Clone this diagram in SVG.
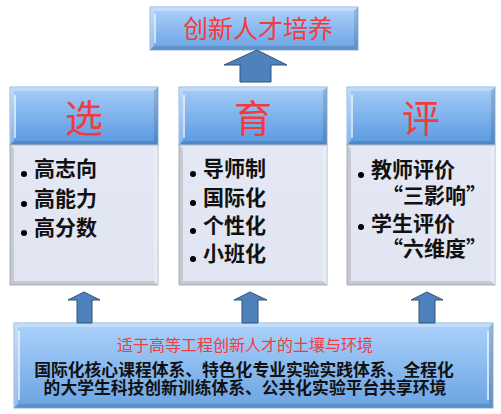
<svg xmlns="http://www.w3.org/2000/svg" width="501" height="414" viewBox="0 0 501 414">
<defs>
<linearGradient id="gBlue" x1="0" y1="0" x2="0" y2="1">
<stop offset="0" stop-color="#acd2fb"/>
<stop offset="1" stop-color="#6aa3e3"/>
</linearGradient>
<linearGradient id="gHead" x1="0" y1="0" x2="0" y2="1">
<stop offset="0" stop-color="#a6cdf8"/>
<stop offset="1" stop-color="#5898df"/>
</linearGradient>
<linearGradient id="gBody" x1="0" y1="0" x2="0" y2="1">
<stop offset="0" stop-color="#e4e8f4"/>
<stop offset="1" stop-color="#e1e5f1"/>
</linearGradient>
<style>
.blue{fill:url(#gBlue);stroke:#8fb4df;stroke-width:1}
.head{fill:url(#gHead);stroke:#8fb4df;stroke-width:1}
.body{fill:url(#gBody);stroke:#b4b8c2;stroke-width:1}
.hl{fill:#ffffff;fill-opacity:0.28}
.sh{fill:#000000;fill-opacity:0.12}
.spec{stroke:#ffffff;stroke-opacity:0.85;stroke-width:1.5;fill:none}
.arrow{fill:#4f81bd;stroke:#2f5277;stroke-width:1}
.red{font-family:"Noto Sans CJK SC","Noto Sans CJK JP",sans-serif;fill:#f23c3c;text-anchor:middle}
.item{font-family:"Noto Sans CJK SC","Noto Sans CJK JP",sans-serif;fill:#111111;font-size:21px;font-weight:600}
.env{font-family:"Noto Sans CJK SC","Noto Sans CJK JP",sans-serif;fill:#111111;font-size:16.8px;font-weight:600;text-anchor:middle}
.dot{fill:#000000}
</style>
</defs>

<g id="top-node">
<rect class="blue" x="150" y="7" width="208" height="43"/>
<polygon class="hl" points="150,7 358,7 354,11 154,11"/>
<polygon class="hl" points="150,7 154,11 154,46 150,50"/>
<polygon class="sh" points="358,7 358,50 354,46 354,11"/>
<polygon class="sh" points="150,50 358,50 354,46 154,46"/>
<line class="spec" x1="155" y1="14" x2="155" y2="43"/>
<text class="red" x="258" y="38" font-size="25">创新人才培养</text>
</g>

<g id="select-node">
<rect class="head" x="10" y="87" width="148" height="58"/>
<polygon class="hl" points="10,87 158,87 154,91 14,91"/>
<polygon class="hl" points="10,87 14,91 14,141 10,145"/>
<polygon class="sh" points="158,87 158,145 154,141 154,91"/>
<polygon class="sh" points="10,145 158,145 154,141 14,141"/>
<line class="spec" x1="15" y1="95" x2="15" y2="138"/>
<text class="red" x="84" y="132" font-size="38">选</text>
<rect class="body" x="10" y="145" width="148" height="140"/>
<polygon class="sh" points="10,145 14,149 14,281 10,285"/>
<polygon class="sh" points="10,285 158,285 154,281 14,281"/>
<polygon class="hl" points="158,145 158,285 154,281 154,149"/>
<circle class="dot" cx="24" cy="174" r="3"/>
<text class="item" x="34" y="176">高志向</text>
<circle class="dot" cx="24" cy="204" r="3"/>
<text class="item" x="34" y="206">高能力</text>
<circle class="dot" cx="24" cy="233" r="3"/>
<text class="item" x="34" y="235">高分数</text>
</g>

<g id="cultivate-node">
<rect class="head" x="179" y="87" width="148" height="58"/>
<polygon class="hl" points="179,87 327,87 323,91 183,91"/>
<polygon class="hl" points="179,87 183,91 183,141 179,145"/>
<polygon class="sh" points="327,87 327,145 323,141 323,91"/>
<polygon class="sh" points="179,145 327,145 323,141 183,141"/>
<line class="spec" x1="184" y1="95" x2="184" y2="138"/>
<text class="red" x="253" y="132" font-size="38">育</text>
<rect class="body" x="179" y="145" width="148" height="140"/>
<polygon class="sh" points="179,145 183,149 183,281 179,285"/>
<polygon class="sh" points="179,285 327,285 323,281 183,281"/>
<polygon class="hl" points="327,145 327,285 323,281 323,149"/>
<circle class="dot" cx="193" cy="174" r="3"/>
<text class="item" x="203" y="176">导师制</text>
<circle class="dot" cx="193" cy="203" r="3"/>
<text class="item" x="203" y="205">国际化</text>
<circle class="dot" cx="193" cy="231" r="3"/>
<text class="item" x="203" y="233">个性化</text>
<circle class="dot" cx="193" cy="259" r="3"/>
<text class="item" x="203" y="261">小班化</text>
</g>

<g id="evaluate-node">
<rect class="head" x="347" y="87" width="148" height="58"/>
<polygon class="hl" points="347,87 495,87 491,91 351,91"/>
<polygon class="hl" points="347,87 351,91 351,141 347,145"/>
<polygon class="sh" points="495,87 495,145 491,141 491,91"/>
<polygon class="sh" points="347,145 495,145 491,141 351,141"/>
<line class="spec" x1="352" y1="95" x2="352" y2="138"/>
<text class="red" x="421" y="132" font-size="38">评</text>
<rect class="body" x="347" y="145" width="148" height="140"/>
<polygon class="sh" points="347,145 351,149 351,281 347,285"/>
<polygon class="sh" points="347,285 495,285 491,281 351,281"/>
<polygon class="hl" points="495,145 495,285 491,281 491,149"/>
<circle class="dot" cx="361" cy="175" r="3"/>
<text class="item" x="371" y="177">教师评价</text>
<text class="item" x="382" y="203">“三影响”</text>
<circle class="dot" cx="361" cy="227" r="3"/>
<text class="item" x="371" y="231">学生评价</text>
<text class="item" x="382" y="256">“六维度”</text>
</g>

<g id="environment-node">
<rect class="blue" x="14" y="323" width="479" height="85"/>
<polygon class="hl" points="14,323 493,323 489,327 18,327"/>
<polygon class="hl" points="14,323 18,327 18,404 14,408"/>
<polygon class="sh" points="493,323 493,408 489,404 489,327"/>
<polygon class="sh" points="14,408 493,408 489,404 18,404"/>
<line class="spec" x1="19" y1="331" x2="19" y2="400"/>
<line class="spec" x1="488" y1="331" x2="488" y2="400"/>
<text class="red" x="245" y="351" font-size="16">适于高等工程创新人才的土壤与环境</text>
<text class="env" x="244" y="376">国际化核心课程体系、特色化专业实验实践体系、全程化</text>
<text class="env" x="245" y="394">的大学生科技创新训练体系、公共化实验平台共享环境</text>
</g>

<g id="connectors">
<polygon class="arrow" points="257,50 287,65 271,65 271,82 240,82 240,65 224,65"/>
<polygon class="arrow" points="84,292 100,300 92,300 92,323 77,323 77,300 68,300"/>
<polygon class="arrow" points="250,292 267,300 258,300 258,323 242,323 242,300 234,300"/>
<polygon class="arrow" points="427,292 443,300 435,300 435,323 419,323 419,300 411,300"/>
</g>
</svg>
